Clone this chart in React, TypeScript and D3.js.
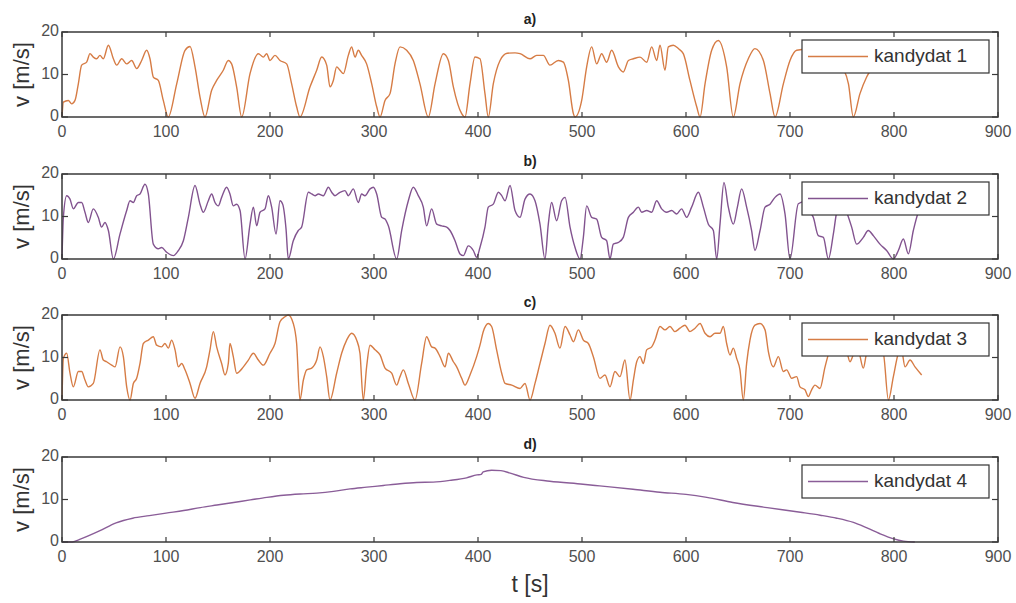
import React from "react";
import * as d3 from "d3";

const xTicks = [0, 100, 200, 300, 400, 500, 600, 700, 800, 900];
const yTicks = [0, 10, 20];
const panelTitles = ["a)", "b)", "c)", "d)"];
const seriesNames = ["kandydat 1", "kandydat 2", "kandydat 3", "kandydat 4"];
const seriesColors = ["#d67c45", "#82538f", "#d67c45", "#8a5d98"];

const t1 = [0,1.3,6.1,9.3,12.5,15.7,18.9,23.7,26.9,30.1,33.3,36.5,39.7,44.6,49.4,52.6,57.4,62.2,67,71.8,76.6,81.4,84.6,87.8,92.6,97.4,102.2,110.3,118.3,123.1,127.9,132.7,137.5,143.9,148.7,155.1,159.9,163.1,167.9,172.8,180.8,188.8,193.6,196.8,200,204.8,209.6,216,220.8,225.6,228.8,238.5,244.9,249.7,254.5,257.7,260.9,264.1,267.3,270.5,275.3,278.5,281.7,284.9,288.1,292.9,297.8,302.6,305.8,310.6,315.4,320.2,325,331.4,337.8,344.2,352.2,358.7,366.7,371.5,376.3,384.3,387.5,392.3,397.1,401.9,406.7,409.9,414.7,421.2,428,435.6,440.4,450,456.4,462.8,469.2,477.2,482.1,486.9,491.7,493.3,499.7,504.5,509.3,514.1,518.9,523.7,528.5,535,539.7,544.6,549.4,555.8,562.2,567,571.8,575,579.8,583,587.8,592.6,597.4,603.8,610.3,613.5,618.3,624.7,631.1,639.1,645.5,651.9,659.9,666.3,674.4,680.8,685.6,693.6,700,706.4,720,740,752,756.2,760.9,767.3,773.7,780];
const v1 = [0,3.5,3.9,3.1,3.9,7.8,12.2,12.9,14.9,14.1,13.7,14.5,13.7,16.9,13.7,12.2,13.7,12.5,13.3,11.4,13.3,15.7,13.7,9.4,8.6,3.9,0,7.8,15.7,16.6,11.8,4.7,0,6.3,8.6,11,13.3,12.5,7.1,0,10.2,14.9,14.1,14.9,13.3,14.5,13.3,12.5,7.8,2.4,0,7.1,11,14.1,12.2,7.1,8.6,11.8,11,10.2,14.5,16.5,14.1,15.7,14.5,12.5,7.8,2.4,0,3.9,5.5,12.5,16.5,15.7,13.3,7.8,0,7.8,14.9,13.3,7.1,0.8,0,7.8,14.1,13.7,5.5,0,7.8,13.3,15,15.1,14.9,13.7,14.5,14.5,12.2,13.3,12.9,8.6,0.8,0,3.9,11.8,16.5,12.5,14.9,12.9,15.7,11.8,10.6,13.3,13.7,14.1,12.9,16.5,13.3,16.9,11,16.5,16.9,16.1,14.9,8.6,2.4,0,7.8,15.7,18,11.8,0,7.8,13.7,16.1,13.3,5.5,0,7.8,13.3,15.7,16,14,11,7.8,0,5.5,9.4,12];

const t2 = [0,1.3,4.5,7.7,10.9,15.7,18.9,22.1,25.3,30.1,34.9,38.1,41.3,44.6,49.4,55.8,62.2,65.4,68.6,71.8,75,79.8,83,87.8,92.6,95.8,100.6,107.1,111.9,116.7,121.5,127.9,132.7,135.9,140.7,143.9,147.1,150.3,153.5,158.3,161.5,164.7,167.9,171.2,176,180.8,184,187.2,190.4,195.2,198.4,201.6,205.8,209.6,212.2,215.4,217.6,222.4,227.2,230.4,236.9,240.1,243.3,246.5,251.3,256.1,259.3,262.5,267.3,272.1,275.3,280.1,284.9,288.1,291.3,296.2,299.4,302.6,307.4,310.6,313.8,321.8,326.6,333,337.8,342.6,347.4,350.6,355.4,360.3,365.1,369.9,373.1,377.9,382.7,385.9,390.7,395.5,398.7,401.9,406.7,409.9,414.7,419.6,422.8,426,430.8,435.6,440.4,445.2,450,454.8,459.6,464.4,467.6,470.8,475.6,480.4,483.7,488.5,493.3,498.1,501.3,504.5,509.3,514.1,518.9,523.7,526.9,530.1,535,539.7,544.6,549.4,554.2,557.4,562.2,567,571.8,576.6,581.4,586.2,591,595.8,600.6,605.4,611.9,616.7,621.5,626.3,629.5,632.7,636.5,640.7,645.5,649.4,653.5,658.3,663.1,666.3,671.2,676,680.8,685.6,690.4,695.2,700,708,714,718,722.4,727.2,732.1,736.9,741.7,744.9,750,754.5,759.3,764.1,770.5,775.3,780.1,786.5,792.9,799.4,804.2,809,813.8,818.6,823.4,827];
const v2 = [0,9.8,14.9,14.1,11.8,13.3,13.3,11,8.6,11.8,9.8,7.5,8.6,6.7,0,5.9,11.4,13.7,13.3,14.9,15.3,17.6,15.3,3.5,2.4,2.7,1.6,0.8,2,4.3,9.8,17.3,12.9,11,13.7,15.3,13.3,12.5,14.5,16.9,15.3,12.5,12.9,11.4,0,8.2,12.2,7.8,11,11.8,14.9,12.2,5.9,13.7,12.9,7.1,0,4.3,6.7,7.5,15.7,15.3,14.9,15.3,14.9,16.9,15.7,14.9,15.7,16.1,14.9,16.5,13.3,15.3,14.9,16.5,16.9,15.3,9.8,9.4,7.8,0,6.7,13.7,16.9,14.9,12.2,7.8,11.8,8.2,7.8,7.5,6.7,4.3,1.2,0.8,3.1,2,0.4,2.7,7.5,12.2,12.9,15.7,14.9,13.7,17.3,11.4,9.8,14.1,15.3,13.7,8.2,0,8.2,13.3,9,13.7,14.5,7.5,2.7,0,5.1,12.5,9.8,9.4,5.1,4.3,0,3.5,3.9,5.1,9.8,11,12.2,11,11.4,11,13.7,11.8,11,11.4,10.6,11.8,9.8,12.2,15.7,12.2,8.2,6.7,0,8.2,18,12.2,8.2,12.2,16.5,12.2,6.7,2,6.7,12.2,12.9,14.5,15.3,10.6,0,13,13.5,11.5,9.8,5.5,5.1,0,5.9,11,13.5,11,7.5,3.5,5.1,6.7,5.5,3.5,2,0,2,4.7,1.2,6.7,11,12.5];

const t3 = [0,1.3,4.5,7.7,10.9,15.7,18.9,22.1,25.3,30.1,36.5,39.7,42.9,47.8,51,55.8,59,62.2,65.4,68.6,71.8,75,78.2,83,87.8,91,95.8,99,102.2,105.4,108.7,111.9,115.1,118.3,123.1,127.9,132.7,139.1,142.3,145.5,148.7,153.5,156.7,159.9,161.5,164.7,167.9,174.4,179.2,184,188.8,193.6,200,204.8,209.6,214.4,217.6,222.4,225.6,228.8,232.1,235.3,240.1,244.9,248.1,251.3,254.5,257.7,264.1,268.9,273.7,278.5,283.3,286.5,289.7,292.9,296.2,301,305.8,310.6,317,321.8,325,328.2,333,339.4,345.8,350.6,355.4,358.7,363.5,368.3,371.5,376.3,379.5,384.3,387.5,392.3,398.7,401.9,405.1,409.9,413.1,417.9,422.8,426,432.4,440.4,445.2,450,454.8,459.6,464.4,469.2,474,478.8,483.7,488.5,491.7,496.5,501.3,506.1,510.9,517.3,522.1,526.9,531.7,536.5,541.3,546.2,549.4,552.6,555.8,559,562.2,567,570.2,575,579.8,584.6,589.4,594.2,599,603.8,608.7,613.5,618.3,623.1,627.9,632.7,635.9,639.1,642.3,645.5,648.7,651.9,655.1,658.3,661.5,666.3,671.2,676,679.2,684,688.8,693.6,696.8,701.6,706.4,709.6,714.4,717.6,720.8,724,728.8,733.7,740,748,754.5,757.7,760.9,765.7,770.5,773.7,780,789.7,794.6,799.4,804.2,807,810.6,815.4,820.2,826.6];
const v3 = [0,9.8,11,6.3,3.1,6.7,6.7,4.7,3.1,3.9,11.8,9.4,9,8.2,7.8,12.5,10.2,3.1,0,3.9,5.1,8.6,13.3,14.1,14.9,12.9,12.5,13.3,12.2,14.1,11.8,7.8,8.6,7.1,3.9,0.4,3.9,7.8,11.8,16.1,12.5,8.6,5.9,8.6,13.3,10.2,6.3,7.8,9.4,11,9.4,8.2,11,13.3,18.4,19.6,20,18,13.3,0,4.7,7.1,7.5,9.4,12.5,10.2,5.5,0,6.3,11,14.1,15.7,14.1,11,0,7.8,12.9,11.8,10.6,7.5,6.3,3.5,5.5,7.1,3.9,0,8.6,14.9,12.5,12.2,10.2,7.8,11,9,7.8,5.1,3.5,5.9,10.2,12.9,16.1,18,17.3,11.8,6.3,3.9,3.5,2.7,3.9,0,3.9,8.6,13.3,17.6,15.7,12.2,17.3,15.3,13.7,16.5,14.1,13.3,10.2,5.1,5.9,3.1,6.7,5.5,9.4,0,4.7,9,10.2,8.6,11.8,12.5,14.1,17.3,16.5,17.3,16.1,16.9,17.6,16.1,16.9,18,15.7,14.9,15.7,15.7,17.3,13.3,10.6,12.2,9.8,7.1,0,8.6,14.1,17.6,18,16.5,11.4,7.8,10.2,6.7,7.1,5.1,5.5,3.1,2.4,0.8,2.4,3.5,2.7,7.8,12.5,13,11.4,9,10.6,11.4,7.5,11,13,11,0,5.5,11,12,7.8,9.4,7.8,5.9];

const t4 = [0,10,17,36,52,68,84,100,117,133,149,165,181,197,213,229,245,261,277,293,309,325,341,357,373,389,399,403,405,413,422,431,444,469,501,517,549,575,600,620,645,678,710,729,745,761,774,786,799,809,820];
const v4 = [0,0,0.6,2.6,4.5,5.6,6.2,6.8,7.4,8.1,8.7,9.3,9.9,10.5,11,11.3,11.5,11.9,12.5,12.9,13.3,13.7,14,14.1,14.5,15.1,15.8,15.9,16.5,16.9,16.8,16.2,15.2,14.3,13.6,13.2,12.4,11.7,11.2,10.5,9.3,8.1,7,6.3,5.6,4.6,3.3,2,0.8,0.2,0];

const seriesT = [t1, t2, t3, t4];
const seriesV = [v1, v2, v3, v4];

const W = 1016;
const H = 603;
const X0 = 62;
const X1 = 998;
const panelTops = [32, 174, 315, 457];
const PH = 85;
const FONT = "'Liberation Sans', Arial, Helvetica, sans-serif";
const FRAME = "#3a3a3a";
const TXT = "#4f4f4f";

export default function App() {
  const x = d3.scaleLinear().domain([0, 900]).range([X0, X1]);
  return (
    <svg width={W} height={H} style={{ position: "absolute", left: 0, top: 0, background: "#fff" }} fontFamily={FONT}>
      <rect x={0} y={0} width={W} height={H} fill="#fff" />
      {panelTops.map((top, i) => {
        const y = d3.scaleLinear().domain([0, 20]).range([top + PH, top]);
        const pts = seriesT[i].map((t, k) => [t, seriesV[i][k]] as [number, number]);
        const line = d3
          .line<[number, number]>()
          .x((d) => x(d[0]))
          .y((d) => y(d[1]))
          .curve(d3.curveMonotoneX);
        const ly = top + 8;
        return (
          <g key={i}>
            <text x={(X0 + X1) / 2} y={top - 8} textAnchor="middle" fontSize={14} fontWeight="bold" fill="#222">
              {panelTitles[i]}
            </text>
            <path d={line(pts) || ""} fill="none" stroke={seriesColors[i]} strokeWidth={1.4} strokeLinejoin="round" />
            <rect x={802} y={ly} width={187} height={33} fill="#fff" stroke="#333" strokeWidth={1.2} />
            <line x1={808} x2={868} y1={ly + 16.5} y2={ly + 16.5} stroke={seriesColors[i]} strokeWidth={1.4} />
            <text x={874} y={ly + 17} dominantBaseline="middle" fontSize={19} fill="#333">
              {seriesNames[i]}
            </text>
            <rect x={X0} y={top} width={X1 - X0} height={PH} fill="none" stroke={FRAME} strokeWidth={1.5} />
            {xTicks.map((t) => (
              <g key={t}>
                <line x1={x(t)} x2={x(t)} y1={top + PH} y2={top + PH - 5} stroke={FRAME} strokeWidth={1.2} />
                <line x1={x(t)} x2={x(t)} y1={top} y2={top + 5} stroke={FRAME} strokeWidth={1.2} />
                <text x={x(t)} y={top + PH + 20} textAnchor="middle" fontSize={16} fill={TXT}>
                  {t}
                </text>
              </g>
            ))}
            {yTicks.map((v) => (
              <g key={v}>
                <line x1={X0} x2={X0 + 6} y1={y(v)} y2={y(v)} stroke={FRAME} strokeWidth={1.2} />
                <line x1={X1} x2={X1 - 6} y1={y(v)} y2={y(v)} stroke={FRAME} strokeWidth={1.2} />
                <text x={X0 - 3} y={y(v)} textAnchor="end" dominantBaseline="middle" fontSize={16} fill={TXT}>
                  {v}
                </text>
              </g>
            ))}
            <text
              transform={`translate(29,${top + PH / 2}) rotate(-90)`}
              textAnchor="middle"
              fontSize={22}
              fill="#333"
            >
              v [m/s]
            </text>
          </g>
        );
      })}
      <text x={(X0 + X1) / 2} y={592} textAnchor="middle" fontSize={23} fill="#333">
        t [s]
      </text>
    </svg>
  );
}
